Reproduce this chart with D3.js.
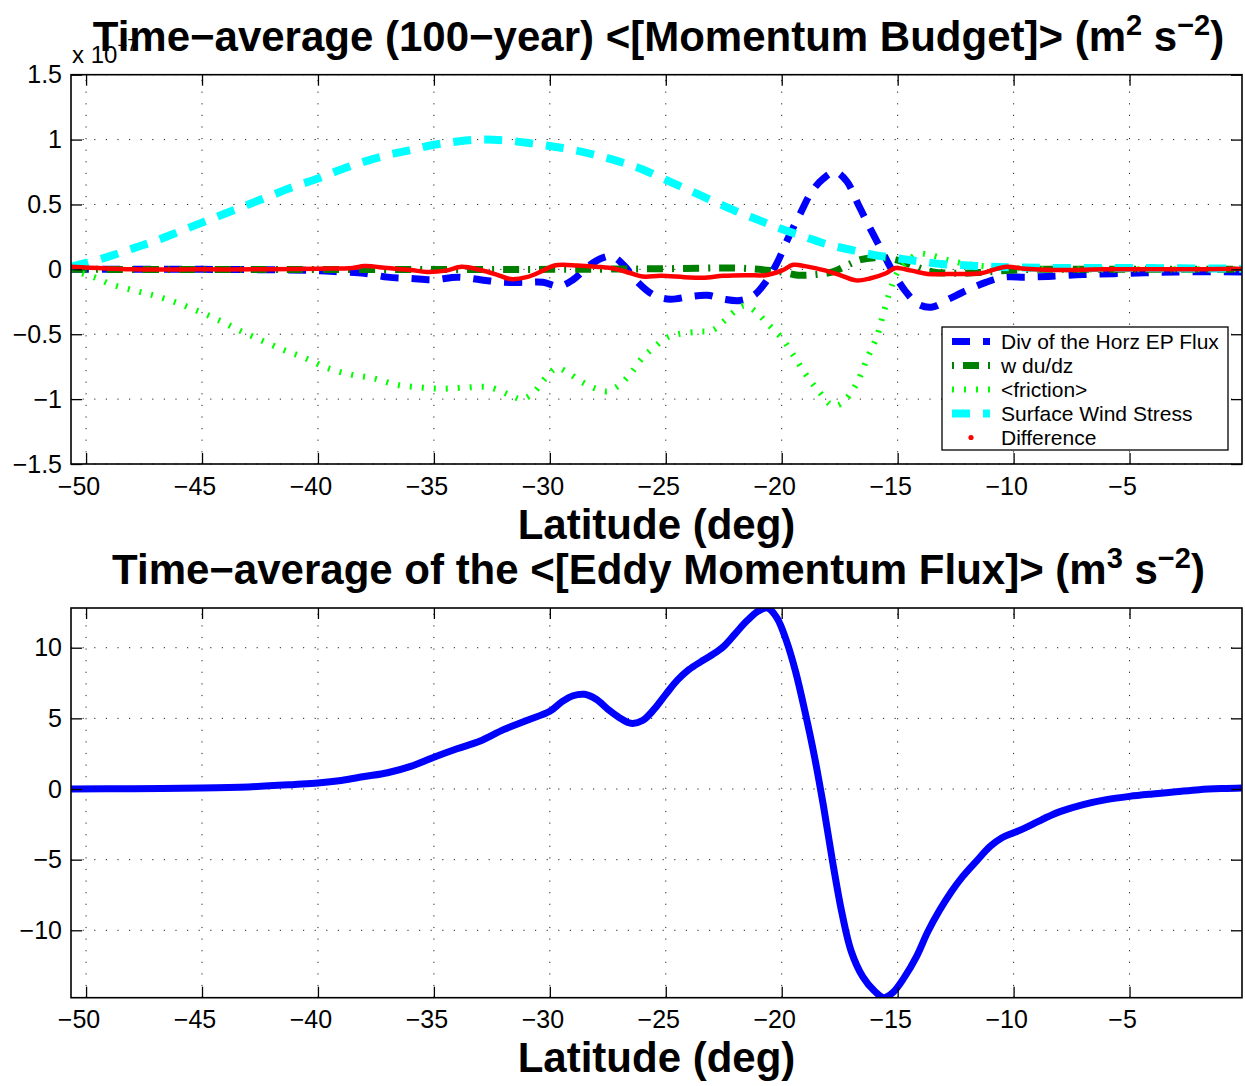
<!DOCTYPE html>
<html>
<head>
<meta charset="utf-8">
<script src="https://cdn.jsdelivr.net/npm/d3@7"></script>
<style>
  body { margin: 0; background: #fff; }
  svg { display: block; }
  text { font-family: "Liberation Sans", Arial, Helvetica, sans-serif; fill: #000; }
</style>
</head>
<body>
<svg id="fig" width="1245" height="1086"></svg>
<script>
// ---- shared latitude axis ----
const latDomain = [-50.65, -0.15];
const latTicks = [-50, -45, -40, -35, -30, -25, -20, -15, -10, -5];

// ---- upper panel: momentum budget terms (units of 1e-7 m^2 s^-2) ----
const budgetYDomain = [-1.5, 1.5];
const budgetYTicks = [-1.5, -1, -0.5, 0, 0.5, 1, 1.5];

const epDivLat = [-50.65, -45, -40, -39, -38, -37, -36, -35, -34, -33, -32, -31, -30.3, -29.6, -29, -28.3, -27.7, -27.3, -26.8, -26.2, -25.5, -24.8, -24, -23.2, -22.5, -21.8, -21.2, -20.7, -20.2, -19.7, -19.2, -18.7, -18.2, -17.7, -17.2, -16.7, -16.2, -15.7, -15.2, -14.7, -14.1, -13.5, -12.8, -12, -11.2, -10.4, -9.5, -8.5, -7, -5, -3, -0.15];
const epDiv = [0, 0, -0.01, -0.02, -0.03, -0.06, -0.07, -0.08, -0.06, -0.08, -0.1, -0.1, -0.1, -0.13, -0.08, 0.03, 0.09, 0.1, 0.03, -0.1, -0.2, -0.23, -0.21, -0.2, -0.23, -0.24, -0.2, -0.1, 0.05, 0.25, 0.43, 0.6, 0.7, 0.75, 0.68, 0.5, 0.32, 0.15, -0.02, -0.16, -0.27, -0.29, -0.23, -0.16, -0.1, -0.06, -0.06, -0.055, -0.04, -0.03, -0.02, -0.02];

const wdudzLat = [-50.65, -30, -25, -22, -21, -20, -19.3, -18.5, -17.8, -17.2, -16.6, -16, -15.4, -14.8, -14.2, -13.5, -12.5, -11.5, -10.5, -9, -5, -0.15];
const wdudz = [0, 0, 0.005, 0.01, 0, -0.02, -0.045, -0.04, -0.02, 0.03, 0.075, 0.09, 0.085, 0.06, 0.02, -0.02, -0.03, -0.025, -0.01, 0, 0, 0];

const frictionLat = [-50.65, -50.2, -49.5, -49, -48, -47.1, -46.2, -45.2, -44.3, -43.4, -42.4, -41.5, -40.6, -39.6, -38.6, -37.6, -36.6, -35.6, -34.6, -33.6, -32.6, -31.7, -31.2, -30.7, -30.2, -29.7, -29.2, -28.6, -28, -27.5, -27, -26.5, -26, -25.5, -25, -24.5, -23.6, -23, -22.5, -22, -21.6, -21.1, -20.6, -20, -19.5, -19, -18.4, -17.8, -17.4, -16.8, -16.3, -15.9, -15.6, -15.3, -15, -14.6, -14.1, -13.6, -12.8, -12, -11, -10, -8, -5, -0.15];
const friction = [0, -0.03, -0.07, -0.11, -0.16, -0.2, -0.25, -0.32, -0.39, -0.47, -0.55, -0.62, -0.68, -0.76, -0.81, -0.84, -0.89, -0.91, -0.92, -0.91, -0.91, -0.97, -1.0, -0.95, -0.84, -0.76, -0.8, -0.87, -0.92, -0.94, -0.89, -0.8, -0.68, -0.6, -0.53, -0.5, -0.48, -0.47, -0.4, -0.32, -0.28, -0.33, -0.42, -0.53, -0.66, -0.8, -0.94, -1.05, -1.03, -0.89, -0.68, -0.52, -0.33, -0.15, -0.02, 0.06, 0.12, 0.11, 0.07, 0.04, 0.02, 0.01, 0, 0, 0];

const windStressLat = [-50.65, -50, -49, -48, -47, -46, -45, -44, -43, -42, -41, -40, -39, -38, -37, -36, -35, -34, -33, -32, -31, -30, -29, -28, -27, -26, -25, -24, -23, -22, -21, -20, -19, -18, -17, -16, -15, -14, -13, -12, -11, -10, -8, -5, -0.15];
const windStress = [0.02, 0.05, 0.1, 0.16, 0.22, 0.29, 0.36, 0.43, 0.5, 0.57, 0.64, 0.7, 0.77, 0.83, 0.88, 0.92, 0.96, 0.985, 1.0, 0.995, 0.975, 0.95, 0.92, 0.88, 0.83, 0.77, 0.69, 0.61, 0.53, 0.45, 0.38, 0.31, 0.25, 0.19, 0.15, 0.11, 0.085, 0.06, 0.04, 0.03, 0.02, 0.015, 0.01, 0.01, 0.005];

const diffLat = [-50.65, -48, -45, -42, -40, -38.5, -38, -37, -36, -35.3, -34.5, -33.8, -33, -32.3, -31.7, -31, -30.3, -29.8, -28.8, -28, -27.2, -26.5, -26, -25.2, -24.2, -23.4, -22.5, -21.5, -20.7, -20, -19.5, -19, -18.1, -17.4, -16.8, -16.2, -15.5, -15.1, -14.4, -13.7, -12.5, -11.4, -10.8, -10.3, -9.5, -8.3, -6, -3, -0.15];
const difference = [0.02, 0, 0, 0, 0.005, 0.01, 0.025, 0.01, -0.005, -0.02, -0.01, 0.02, -0.005, -0.04, -0.075, -0.06, -0.01, 0.03, 0.03, 0.02, 0.005, -0.03, -0.055, -0.05, -0.06, -0.065, -0.05, -0.045, -0.045, -0.01, 0.035, 0.025, -0.01, -0.05, -0.085, -0.07, -0.03, 0.01, -0.01, -0.035, -0.035, -0.03, 0, 0.02, 0.005, -0.005, 0, 0, 0.005];

const legendLabels = ["Div of the Horz EP Flux", "w du/dz", "<friction>", "Surface Wind Stress", "Difference"];

// ---- lower panel: eddy momentum flux (m^3 s^-2) ----
const fluxYTicks = [-10, -5, 0, 5, 10];
const fluxLat = [-50.65, -48, -45, -43, -41, -40, -39, -38, -37, -36, -35, -34, -33, -32, -31, -30, -29.5, -29, -28.5, -28, -27.5, -27, -26.5, -26, -25.5, -25, -24.5, -24, -23.5, -23, -22.5, -22, -21.5, -21, -20.6, -20.2, -19.8, -19.4, -19, -18.6, -18.2, -17.8, -17.4, -17, -16.5, -16, -15.6, -15.2, -14.7, -14.2, -13.7, -13.2, -12.7, -12.2, -11.6, -11, -10.5, -10, -9.5, -9, -8.5, -8, -7, -6, -5, -4, -3, -2, -1, -0.15];
const eddyFlux = [0, 0.02, 0.07, 0.15, 0.32, 0.42, 0.6, 0.88, 1.15, 1.6, 2.25, 2.85, 3.4, 4.2, 4.85, 5.5, 6.15, 6.6, 6.7, 6.35, 5.65, 5.05, 4.65, 4.85, 5.65, 6.7, 7.7, 8.45, 9.0, 9.5, 10.1, 11.0, 11.9, 12.6, 12.81, 12.1, 10.5, 8.3, 5.5, 2.4, -1.2, -5.2, -8.8, -11.5, -13.3, -14.3, -14.77, -14.4, -13.3, -11.9, -10.1, -8.6, -7.3, -6.2, -5.1, -4.05, -3.45, -3.1, -2.75, -2.35, -1.95, -1.6, -1.1, -0.75, -0.52, -0.35, -0.2, -0.05, 0.03, 0.07];

// ---- drawing ----
const svg = d3.select("#fig");
const left = 71, right = 1242;
const tickLen = 11;
const tickFont = 25;

const fmt = v => (v < 0 ? "\u2212" : "") + String(Math.abs(v));

function panel(id, top, bottom, yDomain, yTicks) {
  const x = d3.scaleLinear().domain(latDomain).range([left, right]);
  const y = d3.scaleLinear().domain(yDomain).range([bottom, top]);
  const g = svg.append("g");

  g.append("clipPath").attr("id", id)
    .append("rect").attr("x", left).attr("y", top)
    .attr("width", right - left).attr("height", bottom - top);

  // dotted grid
  const grid = g.append("g").attr("stroke", "#222").attr("stroke-width", 1)
    .attr("stroke-dasharray", "1.2,10.4").attr("fill", "none");
  grid.selectAll("line.v").data(latTicks).join("line")
    .attr("x1", d => x(d)).attr("x2", d => x(d))
    .attr("y1", bottom).attr("y2", top);
  grid.selectAll("line.h").data(yTicks).join("line")
    .attr("x1", left).attr("x2", right)
    .attr("y1", d => y(d)).attr("y2", d => y(d));

  const plot = g.append("g").attr("clip-path", `url(#${id})`);
  return { g, x, y, top, bottom, plot, yTicks };
}

function frame(p) {
  const { g, x, y, top, bottom, yTicks } = p;
  const ax = g.append("g");
  const xb = ax.append("g").attr("transform", `translate(0,${bottom})`)
    .call(d3.axisBottom(x).tickValues(latTicks).tickSize(-tickLen).tickPadding(13).tickFormat(fmt));
  xb.selectAll("text").attr("dx", -7.5);
  ax.append("g").attr("transform", `translate(0,${top})`)
    .call(d3.axisTop(x).tickValues(latTicks).tickSize(-tickLen).tickFormat(""));
  ax.append("g").attr("transform", `translate(${left},0)`)
    .call(d3.axisLeft(y).tickValues(yTicks).tickSize(-tickLen).tickPadding(9).tickFormat(fmt));
  ax.append("g").attr("transform", `translate(${right},0)`)
    .call(d3.axisRight(y).tickValues(yTicks).tickSize(-tickLen).tickFormat(""));
  ax.selectAll(".domain").remove();
  ax.selectAll(".tick line").attr("stroke", "#000").attr("stroke-width", 1.3);
  ax.selectAll("text").attr("font-size", tickFont).attr("font-family", "Liberation Sans, Arial, sans-serif").attr("fill", "#000");
  g.append("rect").attr("x", left).attr("y", top)
    .attr("width", right - left).attr("height", bottom - top)
    .attr("fill", "none").attr("stroke", "#000").attr("stroke-width", 1.6);
}

function series(p, lats, vals, style) {
  const line = d3.line().x(d => p.x(d[0])).y(d => p.y(d[1])).curve(d3.curveCatmullRom.alpha(0.5));
  return p.plot.append("path")
    .datum(d3.zip(lats, vals))
    .attr("d", line)
    .attr("fill", "none")
    .attr("stroke", style.color)
    .attr("stroke-width", style.width)
    .attr("stroke-dasharray", style.dash || null)
    .attr("stroke-linejoin", "round")
    .attr("stroke-linecap", style.cap || "butt");
}

const styles = [
  { color: "#0000ff", width: 7, dash: "18,13" },
  { color: "#008000", width: 7, dash: "16,9,2,9" },
  { color: "#00ff00", width: 6, dash: "2,10" },
  { color: "#00ffff", width: 8, dash: "18,13" },
  { color: "#ff0000", width: 4.5, cap: "round" }
];

// upper panel
const p1 = panel("clipTop", 74.7, 464, budgetYDomain, budgetYTicks);
series(p1, epDivLat, epDiv, styles[0]);
series(p1, wdudzLat, wdudz, styles[1]);
series(p1, frictionLat, friction, styles[2]);
series(p1, windStressLat, windStress, styles[3]);
series(p1, diffLat, difference, styles[4]);
frame(p1);

// legend
const leg = svg.append("g");
leg.append("rect").attr("x", 942).attr("y", 327).attr("width", 286).attr("height", 123)
  .attr("fill", "#fff").attr("stroke", "#000").attr("stroke-width", 1.3);
legendLabels.forEach((lab, i) => {
  const yy = 341.5 + i * 24;
  const s = styles[i];
  if (i < 4) {
    leg.append("line").attr("x1", 952).attr("x2", 990).attr("y1", yy).attr("y2", yy)
      .attr("stroke", s.color).attr("stroke-width", s.width)
      .attr("stroke-dasharray", s.dash)
      .attr("stroke-dashoffset", i === 1 ? 25 : 0);
  } else {
    leg.append("circle").attr("cx", 971).attr("cy", yy).attr("r", 2.6).attr("fill", s.color);
  }
  leg.append("text").attr("x", 1001).attr("y", yy).attr("dy", "0.35em")
    .attr("font-size", 21).text(lab);
});

// scale factor note for the upper panel (partly hidden under the title)
const ex = svg.append("text").attr("x", 72).attr("y", 63).attr("font-size", 24);
ex.append("tspan").text("x 10");
ex.append("tspan").attr("dy", -12).attr("font-size", 17).text("\u22127");

// lower panel
const fluxExtent = d3.extent(eddyFlux);
const p2 = panel("clipBottom", 608, 997.7, fluxExtent, fluxYTicks);
series(p2, fluxLat, eddyFlux, { color: "#0000ff", width: 7, cap: "round" });
frame(p2);

// titles with superscripted units
function supTitle(x, y, parts) {
  const t = svg.append("text").attr("x", x).attr("y", y).attr("text-anchor", "middle")
    .attr("font-size", 42).attr("font-weight", "bold");
  let raised = false;
  parts.forEach(([s, sup]) => {
    const ts = t.append("tspan").text(s);
    if (sup && !raised) { ts.attr("dy", -16).attr("font-size", 29); raised = true; }
    else if (sup) { ts.attr("font-size", 29); }
    else if (raised) { ts.attr("dy", 16); raised = false; }
  });
  return t;
}
supTitle(658.5, 51, [["Time\u2212average (100\u2212year) <[Momentum Budget]> (m"], ["2", true], [" s"], ["\u22122", true], [")"]]);
supTitle(658.5, 584, [["Time\u2212average of the <[Eddy Momentum Flux]> (m"], ["3", true], [" s"], ["\u22122", true], [")"]]);

svg.append("text").attr("x", 656.5).attr("y", 539).attr("text-anchor", "middle")
  .attr("font-size", 42).attr("font-weight", "bold").text("Latitude (deg)");
svg.append("text").attr("x", 656.5).attr("y", 1072).attr("text-anchor", "middle")
  .attr("font-size", 42).attr("font-weight", "bold").text("Latitude (deg)");
</script>
</body>
</html>
